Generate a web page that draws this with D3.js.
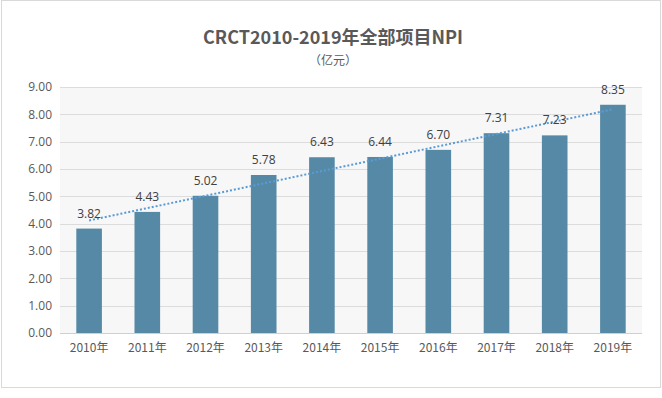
<!DOCTYPE html>
<html>
<head>
<meta charset="utf-8">
<script src="https://cdn.jsdelivr.net/npm/d3@7/dist/d3.min.js"></script>
<style>
  body { margin: 0; background: #fff; }
  text { font-family: "Noto Sans CJK SC", "Microsoft YaHei", sans-serif; }
</style>
</head>
<body>
<div id="chart"></div>
<script>
// chart data
const years = ["2010年", "2011年", "2012年", "2013年", "2014年", "2015年", "2016年", "2017年", "2018年", "2019年"];
const npi = [3.82, 4.43, 5.02, 5.78, 6.43, 6.44, 6.70, 7.31, 7.23, 8.35];
const yTicks = [0, 1, 2, 3, 4, 5, 6, 7, 8, 9];
const title = "CRCT2010-2019年全部项目NPI";
const unit = "（亿元）";

const width = 662, height = 398;
const plot = { left: 60, right: 642, top: 87, bottom: 333 };

const svg = d3.select("#chart").append("svg")
    .attr("width", width)
    .attr("height", height);

// outer frame
svg.append("rect")
    .attr("x", 1.5).attr("y", 0.5)
    .attr("width", 659).attr("height", 387)
    .attr("fill", "#fff")
    .attr("stroke", "#d9d9d9");

svg.append("rect")
    .attr("x", plot.left).attr("y", plot.top)
    .attr("width", plot.right - plot.left).attr("height", plot.bottom - plot.top)
    .attr("fill", "#f7f7f7");

const x = d3.scaleBand()
    .domain(years)
    .range([plot.left, plot.right])
    .paddingInner(0.56)
    .paddingOuter(0.28);

const y = d3.scaleLinear()
    .domain([0, 9])
    .range([plot.bottom, plot.top]);

// gridlines
svg.append("g")
    .selectAll("line")
    .data(yTicks)
    .join("line")
    .attr("x1", plot.left).attr("x2", plot.right)
    .attr("y1", d => Math.round(y(d)) + 0.5)
    .attr("y2", d => Math.round(y(d)) + 0.5)
    .attr("stroke", d => d === 0 ? "#d0d0d0" : "#dcdcdc")
    .attr("stroke-width", 1);

// y axis labels
const yAxis = d3.axisLeft(y).tickValues(yTicks).tickFormat(d3.format(".2f")).tickSize(0).tickPadding(8);
svg.append("g")
    .attr("transform", "translate(" + plot.left + ",0)")
    .call(yAxis)
    .call(g => g.select(".domain").remove())
    .selectAll("text")
    .attr("font-size", 12)
    .attr("fill", "#595959")
    .style("font-family", "'Open Sans', 'Noto Sans', sans-serif");

// bars
svg.append("g")
    .selectAll("rect")
    .data(npi)
    .join("rect")
    .attr("x", (d, i) => x(years[i]))
    .attr("y", d => y(d))
    .attr("width", x.bandwidth())
    .attr("height", d => y(0) - y(d))
    .attr("fill", "#5689a5");

// linear trendline (least squares, as in the source)
const xs = npi.map((d, i) => i);
const mx = d3.mean(xs), my = d3.mean(npi);
const slope = d3.sum(xs, (v, i) => (v - mx) * (npi[i] - my)) / d3.sum(xs, v => (v - mx) * (v - mx));
const icpt = my - slope * mx;
const trend = d3.line()
    .x(i => x(years[i]) + x.bandwidth() / 2)
    .y(i => y(icpt + slope * i));
svg.append("path")
    .datum([0, years.length - 1])
    .attr("d", trend)
    .attr("fill", "none")
    .attr("stroke", "#5b9bd5")
    .attr("stroke-width", 2)
    .attr("stroke-dasharray", "2,2");

// value labels
svg.append("g")
    .selectAll("text")
    .data(npi)
    .join("text")
    .attr("x", (d, i) => x(years[i]) + x.bandwidth() / 2)
    .attr("y", d => y(d) - 11)
    .attr("text-anchor", "middle")
    .attr("font-size", 12)
    .attr("fill", "#404040")
    .style("font-family", "'Open Sans', 'Noto Sans', sans-serif")
    .text(d => d.toFixed(2));

// x axis labels
const xAxis = d3.axisBottom(x).tickSize(0).tickPadding(10);
svg.append("g")
    .attr("transform", "translate(0," + plot.bottom + ")")
    .call(xAxis)
    .call(g => g.select(".domain").remove())
    .selectAll("text")
    .attr("font-size", 12)
    .attr("fill", "#595959");

// titles
svg.append("text")
    .attr("x", 333).attr("y", 44)
    .attr("text-anchor", "middle")
    .attr("font-size", 18)
    .attr("font-weight", "bold")
    .attr("fill", "#595959")
    .text(title);

svg.append("text")
    .attr("x", 333).attr("y", 64.5)
    .attr("text-anchor", "middle")
    .attr("font-size", 12)
    .attr("fill", "#595959")
    .text(unit);
</script>
</body>
</html>
